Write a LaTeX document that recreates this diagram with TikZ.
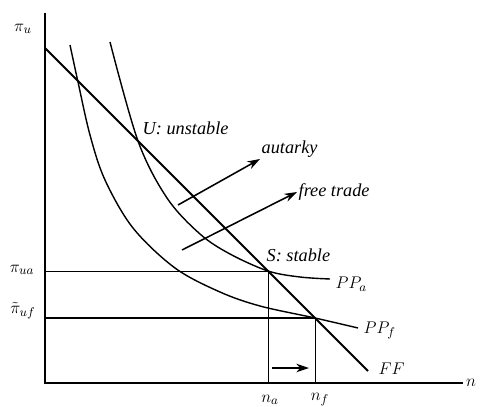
\documentclass[tikz,border=0pt]{standalone}
\usepackage{fontspec}
\setmainfont{Liberation Serif}
\usetikzlibrary{arrows.meta, positioning}

\begin{document}
\begin{tikzpicture}[
    x=0.025cm, y=-0.025cm,
    axis/.style  = {line width=1.3pt},
    kurve/.style = {line width=1pt},
    guide/.style = {line width=0.6pt},
    lab/.style   = {font=\fontsize{13}{15}\selectfont\itshape, inner sep=1pt},
    arr/.style   = {-{Stealth[length=9pt, width=6pt]}, line width=1.1pt},
]
\useasboundingbox (0,0) rectangle (480,407);

% --- Achsen ---
\coordinate (O)    at (45,383);
\coordinate (ytop) at (45,13);
\coordinate (xend) at (463,383);
\draw[axis] (ytop) -- (O) -- (xend);
\node[lab] (nlab)  at (471,383) {$n$};
\node[lab] (piu)   at (23,29)   {$\pi_u$};

% --- Gleichgewichtspunkte ---
\coordinate (U) at (138,141);
\coordinate (S) at (268,271);
\coordinate (F) at (315,318);

% --- FF-Gerade ---
\coordinate (FFtop) at (45,48);
\coordinate (FFend) at (368,371);
\draw[axis] (FFtop) -- (FFend);
\node[lab, anchor=west] (FFlab) at (377,369) {$FF$};

% --- PP-Kurven ---
\draw[kurve] plot[smooth, tension=0.55] coordinates {
    (110,42) (U) (167,198) (200,234) (230,254) (S) (300,277) (330,279)};
\draw[kurve] plot[smooth, tension=0.55] coordinates {
    (70,45) (78,82) (90,135) (105,180) (133,228) (175,268) (220,292)
    (260,306) (F) (358,328)};
\node[lab, anchor=west] (PPa) at (334,284) {$PP_a$};
\node[lab, anchor=west] (PPf) at (362,330) {$PP_f$};

% --- Hilfslinien ---
\draw[guide] (S -| O) -- (S) -- (S |- O);
\draw[guide] (F) -- (F |- O);
\draw[axis] (F -| O) -- (F);
\node[lab] (piua) at (22,270) {$\pi_{ua}$};
\node[lab] (piuf) at (23,311) {$\tilde{\pi}_{uf}$};
\node[lab] (na)   at (270,400) {$n_a$};
\node[lab] (nf)   at (320,400) {$n_f$};

% --- Beschriftungen ---
\node[lab, anchor=west] (Ulab) at (141,128) {U: unstable};
\node[lab, anchor=west] (Slab) at (265,255) {S: stable};
\node[lab, anchor=west] (aut)  at (260,149) {autarky};
\node[lab, anchor=west] (free) at (297,192) {free trade};

% --- Pfeile ---
\coordinate (a0) at (178,205);
\coordinate (f0) at (182,250);
\draw[arr] (a0) -- (aut.south west);
\draw[arr] (f0) -- (free.west);
\coordinate (m0) at (272,368);
\coordinate (m1) at (309,368);
\draw[arr] (m0) -- (m1);

\end{tikzpicture}
\end{document}
